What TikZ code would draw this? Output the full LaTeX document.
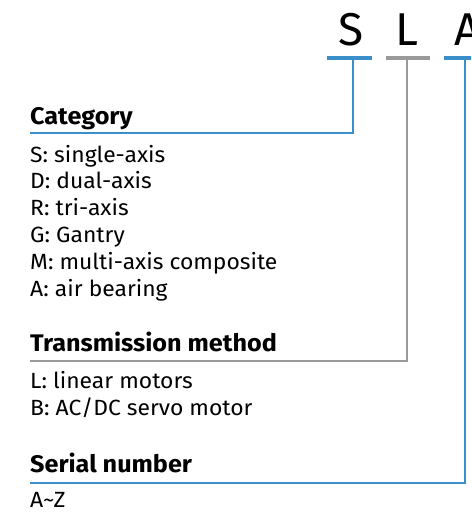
\documentclass[tikz,border=0pt]{standalone}
\usepackage{fontspec}
\setmainfont{Fira Sans}
\newfontfamily\itemfont[FakeStretch=1.04]{Fira Sans}
\newfontfamily\headfont[FakeStretch=1.05]{Fira Sans}
\definecolor{codeblue}{HTML}{3A8FCB}
\definecolor{codegray}{HTML}{9A9A9A}
\begin{document}
\begin{tikzpicture}[x=1pt,y=-1pt,
  letter/.style={font=\fontsize{46}{46}\selectfont, anchor=base, inner sep=0pt},
  bar/.style={fill=#1, draw=none, minimum height=4pt, inner sep=0pt},
  heading/.style={font=\headfont\fontsize{24}{24}\selectfont\bfseries, anchor=base west, inner sep=0pt},
  item/.style={font=\itemfont\fontsize{22}{22}\selectfont, anchor=base west, inner sep=0pt},
  conn/.style={draw=#1, line width=1.6pt}]
\useasboundingbox (0,0) rectangle (471,513);
\clip (0,0) rectangle (471,513);
% code letters
\node[letter] (lS) at (351,46) {S};
\node[letter] (lL) at (407,46) {L};
\node[letter, anchor=base west] (lA) at (454,46) {A};
% bars
\node[bar=codeblue, minimum width=45pt] (bS) at (349.5,58) {};
\node[bar=codegray, minimum width=44pt] (bL) at (408,58) {};
\node[bar=codeblue, minimum width=45pt] (bA) at (466.5,58) {};
% line ends
\coordinate (eS) at (30,133);
\coordinate (eL) at (30,361);
\coordinate (eA) at (30,483);
\coordinate (tS) at (353,58);
\coordinate (tL) at (407,58);
\coordinate (tA) at (465,58);
\draw[conn=codeblue] (tS) |- (eS);
\draw[conn=codegray] (tL) |- (eL);
\draw[conn=codeblue] (tA) |- (eA);
% headings
\node[heading] (hS) at (30,125) {Category};
\node[heading] (hL) at (30,351) {Transmission method};
\node[heading] (hA) at (30,472) {Serial number};
% items
\node[item] (i1) at (30,162) {S: single-axis};
\node[item] (i2) at (30,188.8) {D: dual-axis};
\node[item] (i3) at (30,215.6) {R: tri-axis};
\node[item] (i4) at (30,242.4) {G: Gantry};
\node[item] (i5) at (30,269.2) {M: multi-axis composite};
\node[item] (i6) at (30,296) {A: air bearing};
\node[item] (j1) at (30,388) {L: linear motors};
\node[item] (j2) at (30,415) {B: AC/DC servo motor};
\node[item] (k1) at (30,507) {A\textasciitilde Z};
\end{tikzpicture}
\end{document}
